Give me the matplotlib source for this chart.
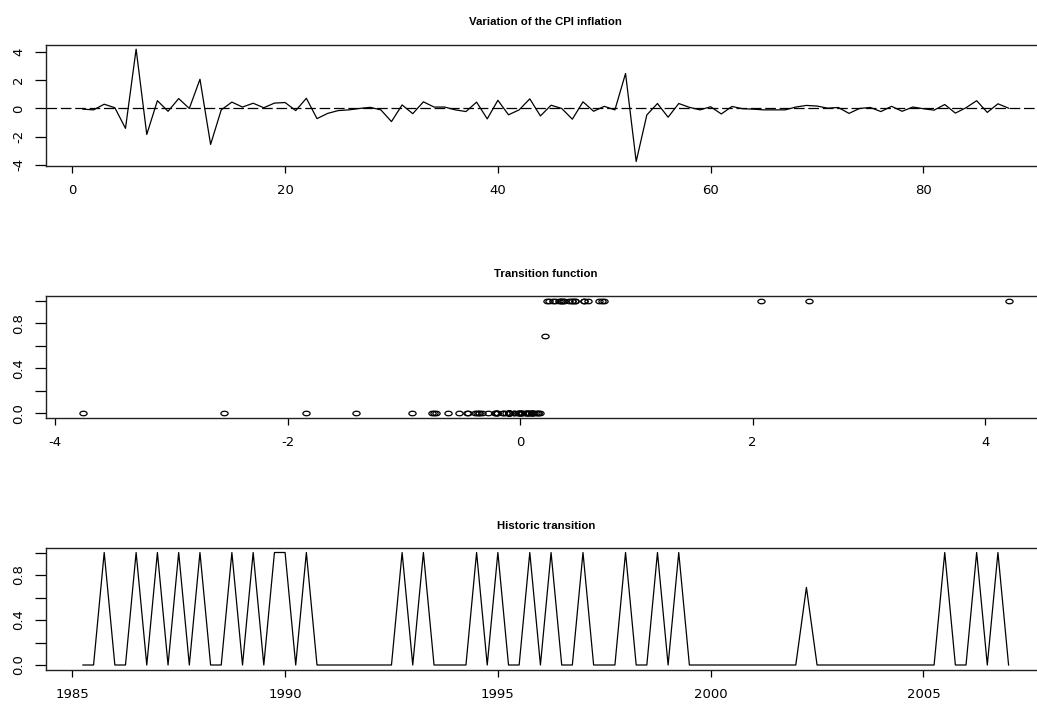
import matplotlib
matplotlib.use("Agg")
import matplotlib.pyplot as plt
from matplotlib.path import Path
from matplotlib.transforms import Affine2D
import numpy as np

# quarterly change of CPI inflation, 1985Q2 .. 2007Q1
variation = [
    -0.05, -0.10, 0.30, 0.05, -1.41, 4.20, -1.84, 0.55, -0.20, 0.70,
    0.00, 2.07, -2.55, -0.10, 0.45, 0.10, 0.37, 0.05, 0.38, 0.42,
    -0.15, 0.72, -0.72, -0.35, -0.15, -0.10, 0.00, 0.08, -0.10, -0.93,
    0.25, -0.37, 0.47, 0.10, 0.10, -0.10, -0.22, 0.45, -0.74, 0.58,
    -0.45, -0.10, 0.68, -0.53, 0.23, 0.00, -0.76, 0.47, -0.20, 0.15,
    -0.10, 2.48, -3.76, -0.46, 0.35, -0.62, 0.35, 0.08, -0.10, 0.12,
    -0.39, 0.14, -0.02, -0.05, -0.10, -0.10, -0.10, 0.10, 0.215, 0.17,
    0.02, 0.07, -0.35, 0.00, 0.07, -0.22, 0.15, -0.20, 0.10, -0.02,
    -0.12, 0.28, -0.33, 0.05, 0.55, -0.28, 0.33, 0.02,
]

# value of the logistic transition for each quarter
transition = [
    0, 0, 1, 0, 0, 1, 0, 1, 0, 1,
    0, 1, 0, 0, 1, 0, 1, 0, 1, 1,
    0, 1, 0, 0, 0, 0, 0, 0, 0, 0,
    1, 0, 1, 0, 0, 0, 0, 1, 0, 1,
    0, 0, 1, 0, 1, 0, 0, 1, 0, 0,
    0, 1, 0, 0, 1, 0, 1, 0, 0, 0,
    0, 0, 0, 0, 0, 0, 0, 0, 0.69, 0,
    0, 0, 0, 0, 0, 0, 0, 0, 0, 0,
    0, 1, 0, 0, 1, 0, 1, 0,
]

start_year = 1985.25
index = np.arange(1, len(variation) + 1)
years = start_year + (index - 1) / 4

W, H = 1037, 704
fig = plt.figure(figsize=(W / 100, H / 100), dpi=100)
fig.patch.set_facecolor("white")

TICK_FONT = dict(family="DejaVu Sans", size=9.5)
TITLE_FONT = dict(family="Liberation Sans", size=8.2, weight="bold")


def r_limits(values):
    # base-R style axis range: data range padded by 4% on each side
    lo, hi = min(values), max(values)
    pad = 0.04 * (hi - lo)
    return lo - pad, hi + pad


def make_panel(top, bottom, title):
    left, right = 45.9, 1045.6
    ax = fig.add_axes([left / W, 1 - bottom / H, (right - left) / W, (bottom - top) / H])
    for side in ax.spines.values():
        side.set_linewidth(1.0)
        side.set_color("#222222")
    ax.tick_params(axis="x", direction="out", length=5, width=0.9, pad=8, colors="black")
    ax.tick_params(axis="y", direction="out", length=8, width=0.9, pad=7, colors="black")
    ax.set_title(title, pad=14, **TITLE_FONT)
    return ax


def style_ticks(ax, xticks, yticks, ylabels):
    ax.set_xticks(xticks)
    ax.set_xticklabels([str(v) for v in xticks], **TICK_FONT)
    ax.set_yticks(yticks)
    ax.set_yticklabels(ylabels, rotation=90, va="center", **TICK_FONT)


unit_ticks = [0, 0.2, 0.4, 0.6, 0.8, 1.0]
unit_labels = ["0.0", "", "0.4", "", "0.8", ""]

# panel 1: variation of inflation over the sample index
ax1 = make_panel(44.7, 166.0, "Variation of the CPI inflation")
ax1.plot(index, variation, color="black", lw=0.9)
ax1.axhline(0, color="black", lw=0.9, dashes=(8.5, 3))
ax1.set_xlim(r_limits(index))
ax1.set_ylim(r_limits(variation))
style_ticks(ax1, [0, 20, 40, 60, 80], [-4, -2, 0, 2, 4], ["-4", "-2", "0", "2", "4"])

# panel 2: transition value against the transition variable
oval = Path.unit_circle().transformed(Affine2D().scale(1.6, 1.0))
ax2 = make_panel(296.3, 417.8, "Transition function")
ax2.plot(variation, transition, linestyle="none", marker=oval, markersize=5.2,
         markerfacecolor="none", markeredgecolor="black", markeredgewidth=0.9)
ax2.set_xlim(r_limits(variation))
ax2.set_ylim(r_limits(transition))
style_ticks(ax2, [-4, -2, 0, 2, 4], unit_ticks, unit_labels)

# panel 3: transition through time
ax3 = make_panel(548.0, 669.5, "Historic transition")
ax3.plot(years, transition, color="black", lw=0.9)
ax3.set_xlim(r_limits(years))
ax3.set_ylim(r_limits(transition))
style_ticks(ax3, [1985, 1990, 1995, 2000, 2005], unit_ticks, unit_labels)

fig.savefig("out.png", dpi=100, facecolor="white")
